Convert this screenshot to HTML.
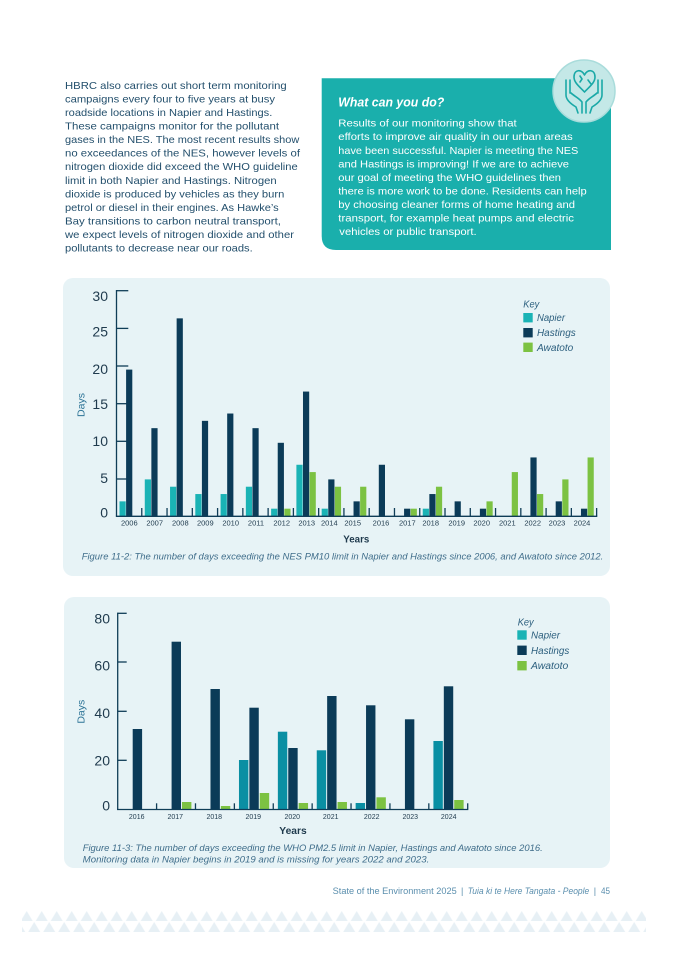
<!DOCTYPE html>
<html><head><meta charset="utf-8"><style>
html,body{margin:0;padding:0;background:#fff;}
svg{display:block;}
text{font-family:"Liberation Sans",sans-serif;}
</style></head><body>
<svg width="675" height="955" viewBox="0 0 675 955" xmlns="http://www.w3.org/2000/svg">
<defs>
<pattern id="tri" x="19.2" y="910" width="15" height="22" patternUnits="userSpaceOnUse">
<polygon points="1.5,11 7.5,1 13.5,11" fill="#e7f0f5"/>
<polygon points="-6,22 0,12 6,22" fill="#e7f0f5"/>
<polygon points="9,22 15,12 21,22" fill="#e7f0f5"/>
</pattern>
</defs>
<rect width="675" height="955" fill="#fff"/>

<!-- Left paragraph -->
<g font-size="10.5" fill="#234f6c">
<text x="65" y="89" textLength="221.7" lengthAdjust="spacingAndGlyphs">HBRC also carries out short term monitoring</text>
<text x="65" y="102.5" textLength="210" lengthAdjust="spacingAndGlyphs">campaigns every four to five years at busy</text>
<text x="65" y="116.1" textLength="207.3" lengthAdjust="spacingAndGlyphs">roadside locations in Napier and Hastings.</text>
<text x="65" y="129.6" textLength="214" lengthAdjust="spacingAndGlyphs">These campaigns monitor for the pollutant</text>
<text x="65" y="143.2" textLength="234.3" lengthAdjust="spacingAndGlyphs">gases in the NES. The most recent results show</text>
<text x="65" y="156.7" textLength="235" lengthAdjust="spacingAndGlyphs">no exceedances of the NES, however levels of</text>
<text x="65" y="170.2" textLength="232.7" lengthAdjust="spacingAndGlyphs">nitrogen dioxide did exceed the WHO guideline</text>
<text x="65" y="183.8" textLength="211.7" lengthAdjust="spacingAndGlyphs">limit in both Napier and Hastings. Nitrogen</text>
<text x="65" y="197.3" textLength="219.3" lengthAdjust="spacingAndGlyphs">dioxide is produced by vehicles as they burn</text>
<text x="65" y="210.9" textLength="213.7" lengthAdjust="spacingAndGlyphs">petrol or diesel in their engines. As Hawke’s</text>
<text x="65" y="224.4" textLength="216" lengthAdjust="spacingAndGlyphs">Bay transitions to carbon neutral transport,</text>
<text x="65" y="237.9" textLength="229" lengthAdjust="spacingAndGlyphs">we expect levels of nitrogen dioxide and other</text>
<text x="65" y="251.5" textLength="187.7" lengthAdjust="spacingAndGlyphs">pollutants to decrease near our roads.</text>
</g>

<!-- Teal box -->
<path d="M321.7,78.3 L611,78.3 L611,250 L336,250 Q321.7,250 321.7,236 Z" fill="#1aafac"/>
<text x="338.3" y="106.7" font-size="12.5" font-weight="bold" font-style="italic" fill="#fff" textLength="106" lengthAdjust="spacingAndGlyphs">What can you do?</text>
<g font-size="10.5" fill="#fff">
<text x="338.3" y="126.7" textLength="178.4" lengthAdjust="spacingAndGlyphs">Results of our monitoring show that</text>
<text x="338.3" y="140.2" textLength="234.4" lengthAdjust="spacingAndGlyphs">efforts to improve air quality in our urban areas</text>
<text x="338.3" y="153.8" textLength="240" lengthAdjust="spacingAndGlyphs">have been successful. Napier is meeting the NES</text>
<text x="338.3" y="167.3" textLength="230.7" lengthAdjust="spacingAndGlyphs">and Hastings is improving! If we are to achieve</text>
<text x="338.3" y="180.9" textLength="222.7" lengthAdjust="spacingAndGlyphs">our goal of meeting the WHO guidelines then</text>
<text x="338.3" y="194.4" textLength="248.4" lengthAdjust="spacingAndGlyphs">there is more work to be done. Residents can help</text>
<text x="338.3" y="207.9" textLength="236.7" lengthAdjust="spacingAndGlyphs">by choosing cleaner forms of home heating and</text>
<text x="338.3" y="221.5" textLength="235.7" lengthAdjust="spacingAndGlyphs">transport, for example heat pumps and electric</text>
<text x="339.3" y="235" textLength="137.4" lengthAdjust="spacingAndGlyphs">vehicles or public transport.</text>
</g>

<!-- Icon -->
<circle cx="584" cy="91" r="31" fill="#c4e8e7" stroke="#a9dcdb" stroke-width="1.5"/>
<g fill="none" stroke="#1aa9a7" stroke-width="1.6" stroke-linecap="round" stroke-linejoin="round">
<path d="M584.5,75 C582,69 574,69 574,77 C574,83 580,87 584.5,92 C589,87 595,83 595,77 C595,69 587,69 584.5,75 Z"/>
<path d="M580,76 L582,79 L580,82 M588,80 L591,84"/>
<path d="M566,80 L566,95 C566,100 571,104 576,107 L578,113 M570,80 L570,93 M571,93 C574,96 579,98 582,102 L582,113"/>
<path d="M602,80 L602,95 C602,100 597,104 592,107 L590,113 M598,80 L598,93 M597,93 C594,96 589,98 586,102 L586,113"/>
</g>

<!-- ================= Chart 1 ================= -->
<rect x="63" y="278" width="547" height="298" rx="10" fill="#e7f3f6"/>
<g stroke="#0f3d57" stroke-width="1.3">
<line x1="116.5" y1="290.7" x2="128.3" y2="290.7"/>
<line x1="116.5" y1="328.4" x2="128.3" y2="328.4"/>
<line x1="116.5" y1="366" x2="128.3" y2="366"/>
<line x1="116.5" y1="403.7" x2="128.3" y2="403.7"/>
<line x1="116.5" y1="441.3" x2="128.3" y2="441.3"/>
<line x1="116.5" y1="479" x2="128.3" y2="479"/>
</g>
<g>
<g fill="#1ab3b5">
<rect x="119.5" y="501.36" width="6.2" height="14.64"/>
<rect x="144.77" y="479.4" width="6.2" height="36.6"/>
<rect x="170.04" y="486.72" width="6.2" height="29.28"/>
<rect x="195.31" y="494.04" width="6.2" height="21.96"/>
<rect x="220.58" y="494.04" width="6.2" height="21.96"/>
<rect x="245.85" y="486.72" width="6.2" height="29.28"/>
<rect x="271.12" y="508.68" width="6.2" height="7.32"/>
<rect x="296.39" y="464.76" width="6.2" height="51.24"/>
<rect x="321.66" y="508.68" width="6.2" height="7.32"/>
<rect x="422.74" y="508.68" width="6.2" height="7.32"/>
</g>
<g fill="#0b3b58">
<rect x="126.1" y="369.6" width="6.2" height="146.4"/>
<rect x="151.37" y="428.16" width="6.2" height="87.84"/>
<rect x="176.64" y="318.36" width="6.2" height="197.64"/>
<rect x="201.91" y="420.84" width="6.2" height="95.16"/>
<rect x="227.18" y="413.52" width="6.2" height="102.48"/>
<rect x="252.45" y="428.16" width="6.2" height="87.84"/>
<rect x="277.72" y="442.8" width="6.2" height="73.2"/>
<rect x="302.99" y="391.56" width="6.2" height="124.44"/>
<rect x="328.26" y="479.4" width="6.2" height="36.6"/>
<rect x="353.53" y="501.36" width="6.2" height="14.64"/>
<rect x="378.8" y="464.76" width="6.2" height="51.24"/>
<rect x="404.07" y="508.68" width="6.2" height="7.32"/>
<rect x="429.34" y="494.04" width="6.2" height="21.96"/>
<rect x="454.61" y="501.36" width="6.2" height="14.64"/>
<rect x="479.88" y="508.68" width="6.2" height="7.32"/>
<rect x="530.42" y="457.44" width="6.2" height="58.56"/>
<rect x="555.69" y="501.36" width="6.2" height="14.64"/>
<rect x="580.96" y="508.68" width="6.2" height="7.32"/>
</g>
<g fill="#7cc242">
<rect x="284.32" y="508.68" width="6.2" height="7.32"/>
<rect x="309.59" y="472.08" width="6.2" height="43.92"/>
<rect x="334.86" y="486.72" width="6.2" height="29.28"/>
<rect x="360.13" y="486.72" width="6.2" height="29.28"/>
<rect x="410.67" y="508.68" width="6.2" height="7.32"/>
<rect x="435.94" y="486.72" width="6.2" height="29.28"/>
<rect x="486.48" y="501.36" width="6.2" height="14.64"/>
<rect x="511.75" y="472.08" width="6.2" height="43.92"/>
<rect x="537.02" y="494.04" width="6.2" height="21.96"/>
<rect x="562.29" y="479.4" width="6.2" height="36.6"/>
<rect x="587.56" y="457.44" width="6.2" height="58.56"/>
</g>
</g>
<g stroke="#0f3d57" stroke-width="1.3">
<line x1="116.5" y1="290" x2="116.5" y2="516.6"/>
<line x1="115.9" y1="516.3" x2="597.3" y2="516.3"/>
<line x1="141.77" y1="508" x2="141.77" y2="516"/>
<line x1="167.04" y1="508" x2="167.04" y2="516"/>
<line x1="192.31" y1="508" x2="192.31" y2="516"/>
<line x1="217.58" y1="508" x2="217.58" y2="516"/>
<line x1="242.85" y1="508" x2="242.85" y2="516"/>
<line x1="268.12" y1="508" x2="268.12" y2="516"/>
<line x1="293.39" y1="508" x2="293.39" y2="516"/>
<line x1="318.66" y1="508" x2="318.66" y2="516"/>
<line x1="343.93" y1="508" x2="343.93" y2="516"/>
<line x1="369.2" y1="508" x2="369.2" y2="516"/>
<line x1="394.47" y1="508" x2="394.47" y2="516"/>
<line x1="419.74" y1="508" x2="419.74" y2="516"/>
<line x1="445.01" y1="508" x2="445.01" y2="516"/>
<line x1="470.28" y1="508" x2="470.28" y2="516"/>
<line x1="495.55" y1="508" x2="495.55" y2="516"/>
<line x1="520.82" y1="508" x2="520.82" y2="516"/>
<line x1="546.09" y1="508" x2="546.09" y2="516"/>
<line x1="571.36" y1="508" x2="571.36" y2="516"/>
<line x1="596.63" y1="508" x2="596.63" y2="516"/>
</g>
<g font-size="14" fill="#1f3a4d" text-anchor="end">
<text x="108" y="301">30</text>
<text x="108" y="336.3">25</text>
<text x="108" y="374">20</text>
<text x="108" y="409">15</text>
<text x="108" y="446">10</text>
<text x="108" y="483">5</text>
<text x="108" y="517.3">0</text>
</g>
<text transform="translate(84.5,405) rotate(-90)" text-anchor="middle" font-size="10.5" fill="#2c7396">Days</text>
<g font-size="7.5" fill="#1f3a4d" text-anchor="middle">
<text x="129.3" y="525.5">2006</text>
<text x="154.7" y="525.5">2007</text>
<text x="180.3" y="525.5">2008</text>
<text x="205.3" y="525.5">2009</text>
<text x="230.7" y="525.5">2010</text>
<text x="256" y="525.5">2011</text>
<text x="281.7" y="525.5">2012</text>
<text x="306.7" y="525.5">2013</text>
<text x="329.3" y="525.5">2014</text>
<text x="352.7" y="525.5">2015</text>
<text x="381" y="525.5">2016</text>
<text x="407.3" y="525.5">2017</text>
<text x="430.7" y="525.5">2018</text>
<text x="456.7" y="525.5">2019</text>
<text x="481.7" y="525.5">2020</text>
<text x="507.3" y="525.5">2021</text>
<text x="532.7" y="525.5">2022</text>
<text x="557" y="525.5">2023</text>
<text x="582" y="525.5">2024</text>
</g>
<text x="343.3" y="542.7" font-size="10.5" font-weight="bold" fill="#1f3a4d" textLength="26" lengthAdjust="spacingAndGlyphs">Years</text>
<text x="81.7" y="559.5" font-size="9.5" font-style="italic" fill="#3f6d8a" textLength="521.6" lengthAdjust="spacingAndGlyphs">Figure 11-2: The number of days exceeding the NES PM10 limit in Napier and Hastings since 2006, and Awatoto since 2012.</text>
<text x="523.3" y="307.5" font-size="10" font-style="italic" fill="#2c5f7e" textLength="16" lengthAdjust="spacingAndGlyphs">Key</text>
<rect x="523.3" y="313" width="9.4" height="9.4" fill="#1ab3b5"/>
<rect x="523.3" y="328" width="9.4" height="9.4" fill="#0b3b58"/>
<rect x="523.3" y="342.6" width="9.4" height="9.4" fill="#7cc242"/>
<g font-size="10" font-style="italic" fill="#2c5f7e">
<text x="537" y="321.2" textLength="28" lengthAdjust="spacingAndGlyphs">Napier</text>
<text x="537" y="336.2" textLength="38.7" lengthAdjust="spacingAndGlyphs">Hastings</text>
<text x="537" y="350.8" textLength="36.3" lengthAdjust="spacingAndGlyphs">Awatoto</text>
</g>

<!-- ================= Chart 2 ================= -->
<rect x="64" y="597" width="546" height="271" rx="10" fill="#e7f3f6"/>
<g stroke="#0f3d57" stroke-width="1.3">
<line x1="117.7" y1="613.3" x2="126.7" y2="613.3"/>
<line x1="117.7" y1="662" x2="126.7" y2="662"/>
<line x1="117.7" y1="711.3" x2="126.7" y2="711.3"/>
<line x1="117.7" y1="760.3" x2="126.7" y2="760.3"/>
</g>
<g fill="#0a8fa3">
<rect x="238.97" y="760" width="9.4" height="49.3"/>
<rect x="277.86" y="731.7" width="9.4" height="77.6"/>
<rect x="316.75" y="750.3" width="9.4" height="59"/>
<rect x="355.64" y="803" width="9.4" height="6.3"/>
<rect x="433.42" y="741" width="9.4" height="68.3"/>
</g>
<g fill="#0b3b58">
<rect x="132.7" y="729" width="9.4" height="80.3"/>
<rect x="171.59" y="641.7" width="9.4" height="167.6"/>
<rect x="210.48" y="689" width="9.4" height="120.3"/>
<rect x="249.37" y="707.7" width="9.4" height="101.6"/>
<rect x="288.26" y="748" width="9.4" height="61.3"/>
<rect x="327.15" y="696" width="9.4" height="113.3"/>
<rect x="366.04" y="705.3" width="9.4" height="104"/>
<rect x="404.93" y="719.3" width="9.4" height="90"/>
<rect x="443.82" y="686.3" width="9.4" height="123"/>
</g>
<g fill="#7cc242">
<rect x="181.99" y="802" width="9.4" height="7.3"/>
<rect x="220.88" y="806" width="9.4" height="3.3"/>
<rect x="259.77" y="793" width="9.4" height="16.3"/>
<rect x="298.66" y="803" width="9.4" height="6.3"/>
<rect x="337.55" y="802" width="9.4" height="7.3"/>
<rect x="376.44" y="797.3" width="9.4" height="12"/>
<rect x="454.22" y="800" width="9.4" height="9.3"/>
</g>
<g stroke="#0f3d57" stroke-width="1.3">
<line x1="117.7" y1="612.6" x2="117.7" y2="809.9"/>
<line x1="117" y1="809.5" x2="468.3" y2="809.5"/>
<line x1="156.59" y1="803.3" x2="156.59" y2="809.3"/>
<line x1="195.48" y1="803.3" x2="195.48" y2="809.3"/>
<line x1="234.37" y1="803.3" x2="234.37" y2="809.3"/>
<line x1="273.26" y1="803.3" x2="273.26" y2="809.3"/>
<line x1="312.15" y1="803.3" x2="312.15" y2="809.3"/>
<line x1="351.04" y1="803.3" x2="351.04" y2="809.3"/>
<line x1="389.93" y1="803.3" x2="389.93" y2="809.3"/>
<line x1="428.82" y1="803.3" x2="428.82" y2="809.3"/>
<line x1="467.71" y1="803.3" x2="467.71" y2="809.3"/>
</g>
<g font-size="14" fill="#1f3a4d" text-anchor="end">
<text x="110" y="623.7">80</text>
<text x="110" y="670.5">60</text>
<text x="110" y="718">40</text>
<text x="110" y="765.3">20</text>
<text x="110" y="810.5">0</text>
</g>
<text transform="translate(84.5,711.7) rotate(-90)" text-anchor="middle" font-size="10.5" fill="#2c7396">Days</text>
<g font-size="7" fill="#1f3a4d" text-anchor="middle">
<text x="136.7" y="819.2">2016</text>
<text x="175.3" y="819.2">2017</text>
<text x="214.3" y="819.2">2018</text>
<text x="253.3" y="819.2">2019</text>
<text x="292.3" y="819.2">2020</text>
<text x="330.7" y="819.2">2021</text>
<text x="371.7" y="819.2">2022</text>
<text x="410.3" y="819.2">2023</text>
<text x="448.7" y="819.2">2024</text>
</g>
<text x="279.3" y="834" font-size="10.5" font-weight="bold" fill="#1f3a4d" textLength="27.4" lengthAdjust="spacingAndGlyphs">Years</text>
<g font-size="9.5" font-style="italic" fill="#3f6d8a">
<text x="82.7" y="850.8" textLength="460" lengthAdjust="spacingAndGlyphs">Figure 11-3: The number of days exceeding the WHO PM2.5 limit in Napier, Hastings and Awatoto since 2016.</text>
<text x="82.7" y="862.5" textLength="346.6" lengthAdjust="spacingAndGlyphs">Monitoring data in Napier begins in 2019 and is missing for years 2022 and 2023.</text>
</g>
<text x="517.7" y="625.5" font-size="10" font-style="italic" fill="#2c5f7e" textLength="16" lengthAdjust="spacingAndGlyphs">Key</text>
<rect x="517.3" y="630.3" width="9.4" height="9.4" fill="#1ab3b5"/>
<rect x="517.3" y="645.6" width="9.4" height="9.4" fill="#0b3b58"/>
<rect x="517.3" y="661" width="9.4" height="9.4" fill="#7cc242"/>
<g font-size="10" font-style="italic" fill="#2c5f7e">
<text x="531" y="638.5" textLength="29" lengthAdjust="spacingAndGlyphs">Napier</text>
<text x="531" y="653.8" textLength="38.3" lengthAdjust="spacingAndGlyphs">Hastings</text>
<text x="531" y="669.2" textLength="37.3" lengthAdjust="spacingAndGlyphs">Awatoto</text>
</g>

<!-- Footer -->
<g font-size="9" fill="#5b8fae">
<text x="332.7" y="894" textLength="124" lengthAdjust="spacingAndGlyphs">State of the Environment 2025</text>
<text x="461" y="894">|</text>
<text x="467.7" y="894" font-style="italic" textLength="121.6" lengthAdjust="spacingAndGlyphs">Tuia ki te Here Tangata - People</text>
<text x="593.8" y="894">|</text>
<text x="601" y="894" textLength="9" lengthAdjust="spacingAndGlyphs">45</text>
</g>
<rect x="22" y="910" width="624" height="22" fill="url(#tri)"/>
</svg>
</body></html>
